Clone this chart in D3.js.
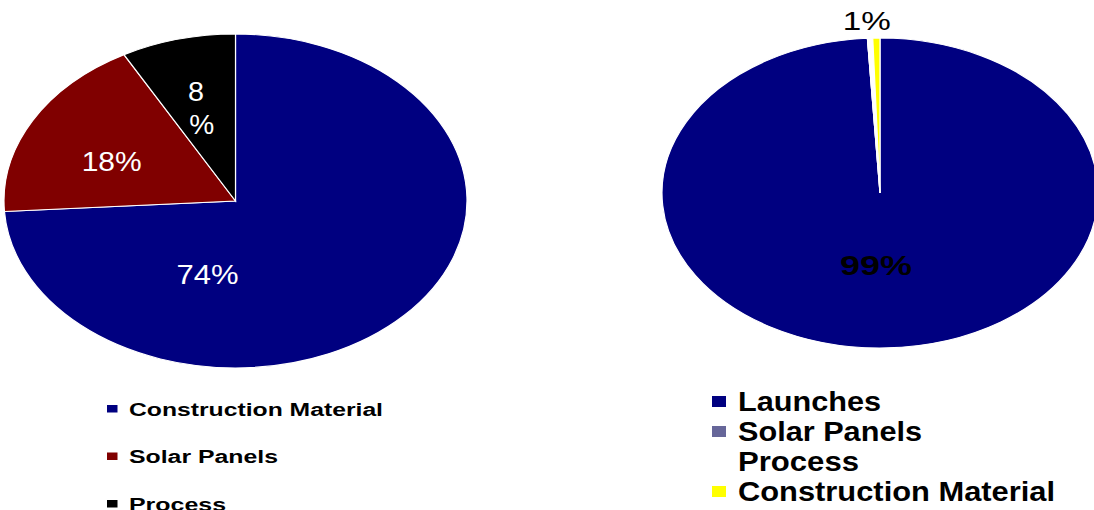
<!DOCTYPE html>
<html>
<head>
<meta charset="utf-8">
<script src="https://cdn.jsdelivr.net/npm/d3@7"></script>
<style>
  html, body { margin: 0; padding: 0; background: #fff; }
  svg { display: block; font-family: "Liberation Sans", Arial, sans-serif; }
</style>
</head>
<body>
<svg id="chart" width="1094" height="510"></svg>
<script>
// ---------- data ----------
const leftCategories = ["Construction Material", "Solar Panels", "Process"];
const leftValues = [74, 18, 8];
const leftLabels = [["74%"], ["18%"], ["8", "%"]];

const rightCategories = ["Launches", "Solar Panels", "Process", "Construction Material"];
const rightValues = [99.08, 0, 0.39, 0.53];
const rightLabels = [["99%"], [], [], ["1%"]];

// ---------- styles / layout ----------
const leftColors = ["#000080", "#800000", "#000000"];
const rightColors = ["#000080", "#666699", "#ffffff", "#ffff00"];

const leftPie = { cx: 235.5, cy: 201, rx: 231.5, ry: 167 };
const rightPie = { cx: 880, cy: 193, rx: 218, ry: 155 };

// label anchor offsets in units of radii, per line
const leftLabelLayout = [
  { lines: [[-0.121, 0.497]], size: 27, weight: "normal", fill: "#fff", widths: [62] },
  { lines: [[-0.535, -0.181]], size: 27, weight: "normal", fill: "#fff", widths: [60] },
  { lines: [[-0.171, -0.599], [-0.146, -0.401]], size: 27, weight: "normal", fill: "#fff", widths: [16, 25] }
];
const rightLabelLayout = [
  { lines: [[-0.018, 0.529]], size: 28, weight: "bold", fill: "#000", widths: [72] },
  { lines: [] }, { lines: [] },
  { lines: [[-0.061, -1.052]], size: 26, weight: "normal", fill: "#000", widths: [48] }
];

const svg = d3.select("#chart");

function drawPie(values, colors, geo, labels, layout) {
  const pie = d3.pie().sort(null).value(d => d).startAngle(0).endAngle(2 * Math.PI);
  const arcs = pie(values);
  const arc = d3.arc().innerRadius(0).outerRadius(geo.ry);
  const g = svg.append("g")
    .attr("transform", `translate(${geo.cx},${geo.cy}) scale(${geo.rx / geo.ry},1)`);
  g.selectAll("path")
    .data(arcs)
    .join("path")
    .attr("d", arc)
    .attr("fill", (d, i) => colors[i])
    .attr("stroke", "#fff")
    .attr("stroke-width", 1.2)
    .attr("vector-effect", "non-scaling-stroke");

  const lg = svg.append("g");
  labels.forEach((lines, i) => {
    const L = layout[i];
    lines.forEach((txt, j) => {
      const [dx, dy] = L.lines[j];
      lg.append("text")
        .attr("x", geo.cx + dx * geo.rx)
        .attr("y", geo.cy + dy * geo.ry)
        .attr("text-anchor", "middle")
        .attr("font-size", L.size)
        .attr("font-weight", L.weight)
        .attr("fill", L.fill)
        .attr("textLength", L.widths[j])
        .attr("lengthAdjust", "spacingAndGlyphs")
        .text(txt);
    });
  });
}

drawPie(leftValues, leftColors, leftPie, leftLabels, leftLabelLayout);
drawPie(rightValues, rightColors, rightPie, rightLabels, rightLabelLayout);

// ---------- legends ----------
function drawLegend(cats, colors, opt) {
  const g = svg.append("g");
  const y = d3.scalePoint().domain(cats).range([opt.y0, opt.y1]);
  const rows = g.selectAll("g").data(cats).join("g")
    .attr("transform", d => `translate(0,${y(d)})`);
  rows.append("rect")
    .attr("x", opt.sx)
    .attr("y", opt.sdy)
    .attr("width", opt.sw)
    .attr("height", opt.sh)
    .attr("fill", (d, i) => colors[i]);
  rows.append("text")
    .attr("x", opt.tx)
    .attr("y", 0)
    .attr("font-size", opt.size)
    .attr("font-weight", "bold")
    .attr("fill", "#000")
    .attr("textLength", (d, i) => opt.widths[i])
    .attr("lengthAdjust", "spacingAndGlyphs")
    .text(d => d);
}

drawLegend(leftCategories, leftColors, {
  y0: 415.5, y1: 510.5, sx: 107, sdy: -10.5, sw: 10.5, sh: 7.5, tx: 129,
  size: 18.7, widths: [254, 149, 97]
});
drawLegend(rightCategories, rightColors, {
  y0: 411, y1: 501, sx: 712, sdy: -15, sw: 14, sh: 11, tx: 738,
  size: 27, widths: [143, 184, 121, 317]
});
</script>
</body>
</html>
